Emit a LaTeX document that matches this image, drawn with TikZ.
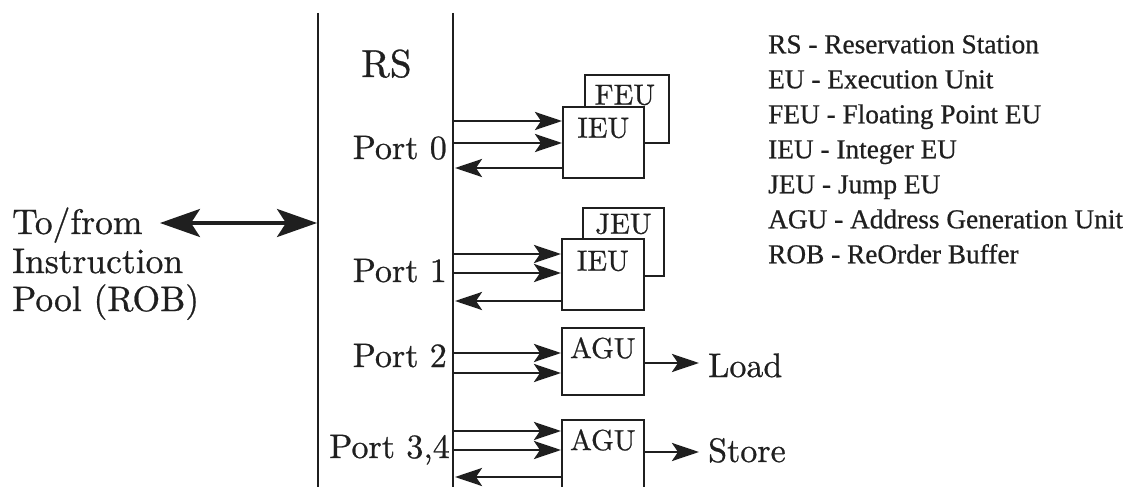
\documentclass[tikz,border=0pt]{standalone}
\usepackage{fontspec}
\setmainfont{lmroman10-regular.otf}[FakeBold=0.7]
\newfontfamily\legendfont{Liberation Serif}[FakeBold=0.6]
\usetikzlibrary{arrows.meta,calc}
\tikzset{
  ink/.style={black!88},
  rsline/.style={ink, line width=1.9pt},
  eubox/.style={draw=black!88, line width=1.7pt, fill=white, anchor=north west, inner sep=0pt},
  eulabel/.style={ink, inner sep=0pt, font=\fontsize{29}{34}\selectfont},
  portlabel/.style={ink, inner sep=0pt, anchor=base east, font=\fontsize{34}{40}\selectfont},
  biglabel/.style={ink, inner sep=0pt, anchor=base west, font=\fontsize{35.5}{40}\selectfont},
  portarrow/.style={ink, line width=2.8pt, -{Stealth[length=27pt,width=18pt,inset=6pt]}},
  dblarrow/.style={ink, line width=3.4pt, {Stealth[length=40pt,width=28pt,inset=9pt]}-{Stealth[length=40pt,width=28pt,inset=9pt]}},
  legendtext/.style={ink, inner sep=0pt, anchor=north west, align=left, font={\legendfont\fontsize{27.3}{35}\selectfont}}
}
\begin{document}
\begin{tikzpicture}[x=1pt,y=-1pt]
\useasboundingbox (0,0) rectangle (1133,487);
\clip (0,0) rectangle (1133,487);

% reservation station lines
\coordinate (rsLtop) at (318,13);
\coordinate (rsLbot) at (318,500);
\coordinate (rsRtop) at (453,13);
\coordinate (rsRbot) at (453,500);
\draw[rsline] (rsLtop) -- (rsLbot);
\draw[rsline] (rsRtop) -- (rsRbot);

\node[biglabel, font=\fontsize{39}{44}\selectfont] (rs) at (361,77) {RS};

% left text and double arrow
\node[biglabel] (tof1) at (12,234) {To/from};
\node[biglabel] (tof2) at (12,273) {Instruction};
\node[biglabel] (tof3) at (12,311) {Pool (ROB)};
\coordinate (dl) at (160,223);
\coordinate (rsin) at (317,223);
\draw[dblarrow] (dl) -- (rsin);

% port labels
\node[portlabel] (port0) at (447,159) {Port 0};
\node[portlabel] (port1) at (447,282) {Port 1};
\node[portlabel] (port2) at (447,367) {Port 2};
\node[portlabel] (port3) at (450,458) {Port 3,4};

% execution units
\node[eubox, minimum width=84pt, minimum height=68pt] (feu0) at (584,74) {};
\node[eulabel] at ($(feu0.north)+(-2,21)$) {FEU};
\node[eubox, minimum width=81pt, minimum height=71pt] (ieu0) at (562,106) {};
\node[eulabel] at ($(ieu0.north)+(0,22)$) {IEU};

\node[eubox, minimum width=81pt, minimum height=68pt] (jeu1) at (582,207) {};
\node[eulabel] at ($(jeu1.north)+(0,17)$) {JEU};
\node[eubox, minimum width=82pt, minimum height=71pt] (ieu1) at (561,238) {};
\node[eulabel] at ($(ieu1.north)+(0,23)$) {IEU};

\node[eubox, minimum width=82pt, minimum height=67pt] (agu2) at (561,327) {};
\node[eulabel] at ($(agu2.north)+(0,21)$) {AGU};

\node[eubox, minimum width=82pt, minimum height=90pt] (agu3) at (561,419) {};
\node[eulabel] at ($(agu3.north)+(0,21)$) {AGU};

% port 0 connectors
\coordinate (p0a) at (453,121);
\coordinate (p0b) at (453,143);
\coordinate (p0c) at (455,168);
\draw[portarrow] (p0a) -- (p0a -| ieu0.west);
\draw[portarrow] (p0b) -- (p0b -| ieu0.west);
\draw[portarrow] (p0c -| ieu0.west) -- (p0c);

% port 1 connectors
\coordinate (p1a) at (453,254);
\coordinate (p1b) at (453,273);
\coordinate (p1c) at (455,301);
\draw[portarrow] (p1a) -- (p1a -| ieu1.west);
\draw[portarrow] (p1b) -- (p1b -| ieu1.west);
\draw[portarrow] (p1c -| ieu1.west) -- (p1c);

% port 2 connectors
\coordinate (p2a) at (453,353);
\coordinate (p2b) at (453,373);
\draw[portarrow] (p2a) -- (p2a -| agu2.west);
\draw[portarrow] (p2b) -- (p2b -| agu2.west);

% port 3,4 connectors
\coordinate (p3a) at (453,431);
\coordinate (p3b) at (453,450);
\coordinate (p3c) at (455,477);
\draw[portarrow] (p3a) -- (p3a -| agu3.west);
\draw[portarrow] (p3b) -- (p3b -| agu3.west);
\draw[portarrow] (p3c -| agu3.west) -- (p3c);

% load / store
\node[biglabel, font=\fontsize{34}{40}\selectfont] (load) at (708,377) {Load};
\node[biglabel, font=\fontsize{34}{40}\selectfont] (store) at (708,462) {Store};
\coordinate (ldtip) at (699,363);
\coordinate (sttip) at (699,452);
\draw[portarrow] (agu2.east |- ldtip) -- (ldtip);
\draw[portarrow] (agu3.east |- sttip) -- (sttip);

% legend
\node[legendtext] (legend) at (768,35) {RS - Reservation Station\\
EU - Execution Unit\\
FEU - Floating Point EU\\
IEU - Integer EU\\
JEU - Jump EU\\
AGU - Address Generation Unit\\
ROB - ReOrder Buffer};
\end{tikzpicture}
\end{document}
